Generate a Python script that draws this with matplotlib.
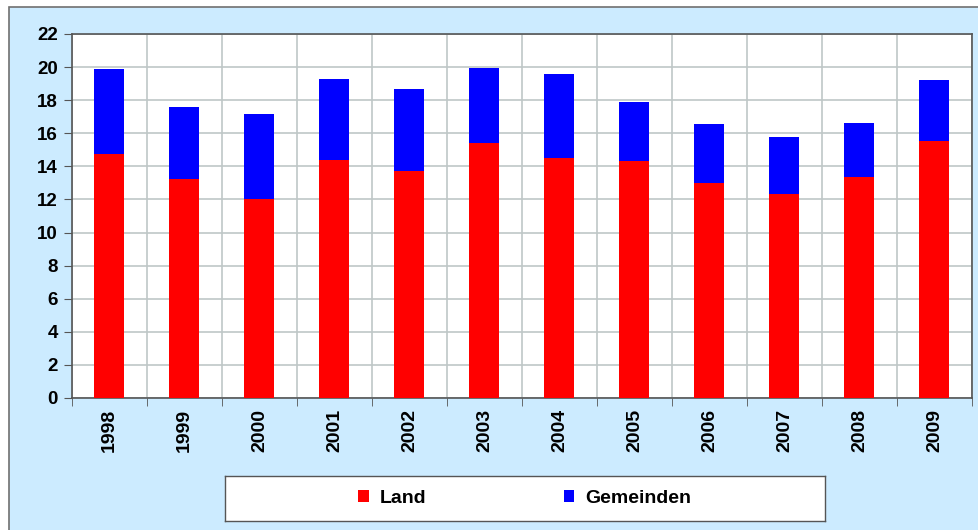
import matplotlib.pyplot as plt
from matplotlib.patches import Rectangle

years = ['1998', '1999', '2000', '2001', '2002', '2003',
         '2004', '2005', '2006', '2007', '2008', '2009']
land = [14.73, 13.24, 12.01, 14.41, 13.72, 15.41,
        14.53, 14.30, 13.01, 12.35, 13.34, 15.53]
gesamt = [19.88, 17.61, 17.17, 19.30, 18.66, 19.97,
          19.56, 17.87, 16.54, 15.75, 16.60, 19.20]
gemeinden = [g - l for g, l in zip(gesamt, land)]

plt.rcParams['font.family'] = ['Liberation Sans', 'DejaVu Sans']

fig = plt.figure(figsize=(9.79, 5.30), dpi=100)
fig.patch.set_facecolor('white')
# hellblauer Hintergrund mit grauem Rand
fig.patches.append(Rectangle((9 / 979, -0.01), 1.0, 1 - 7 / 530 + 0.01,
                             transform=fig.transFigure, facecolor='#CCEBFF',
                             edgecolor='#707070', linewidth=1.2, zorder=-10))

ax = fig.add_axes([72 / 979, 1 - 398 / 530, 900 / 979, 364 / 530])
ax.set_facecolor('white')

x = range(len(years))
b1 = ax.bar(x, land, width=0.4, color='#FF0000', label='Land', zorder=3)
b2 = ax.bar(x, gemeinden, width=0.4, bottom=land, color='#0000FF',
            label='Gemeinden', zorder=3)

ax.set_xlim(-0.5, len(years) - 0.5)
ax.set_ylim(0, 22)
ax.set_yticks(range(0, 23, 2))
ax.set_xticks([i + 0.5 for i in range(-1, len(years))], minor=True)
ax.set_xticks(list(x))
ax.set_xticklabels(years, rotation=90, fontsize=14, fontweight='bold')
ax.tick_params(axis='x', which='major', length=0, pad=8)
ax.tick_params(axis='x', which='minor', length=6, color='#555555')
ax.tick_params(axis='y', length=6, color='#555555', labelsize=13.5, pad=4)
for lab in ax.get_yticklabels():
    lab.set_fontweight('bold')

ax.grid(True, axis='y', color='#BFC7C7', linewidth=1.2, zorder=0)
ax.grid(True, axis='x', which='minor', color='#BFC7C7', linewidth=1.2, zorder=0)
for s in ax.spines.values():
    s.set_color('#555555')
    s.set_linewidth(1.2)

# Legende in eigenem weissen Kasten
lax = fig.add_axes([225 / 979, 1 - 521 / 530, 600 / 979, 45 / 530])
lax.set_facecolor('white')
lax.set_xticks([])
lax.set_yticks([])
for s in lax.spines.values():
    s.set_color('#555555')
    s.set_linewidth(1.0)
lax.legend(handles=[b1, b2], loc='center', ncol=2, frameon=False,
           prop={'size': 14, 'weight': 'bold'}, handlelength=0.52,
           handleheight=0.52, handletextpad=0.57, columnspacing=7.1)

plt.savefig('out.png', dpi=100)
